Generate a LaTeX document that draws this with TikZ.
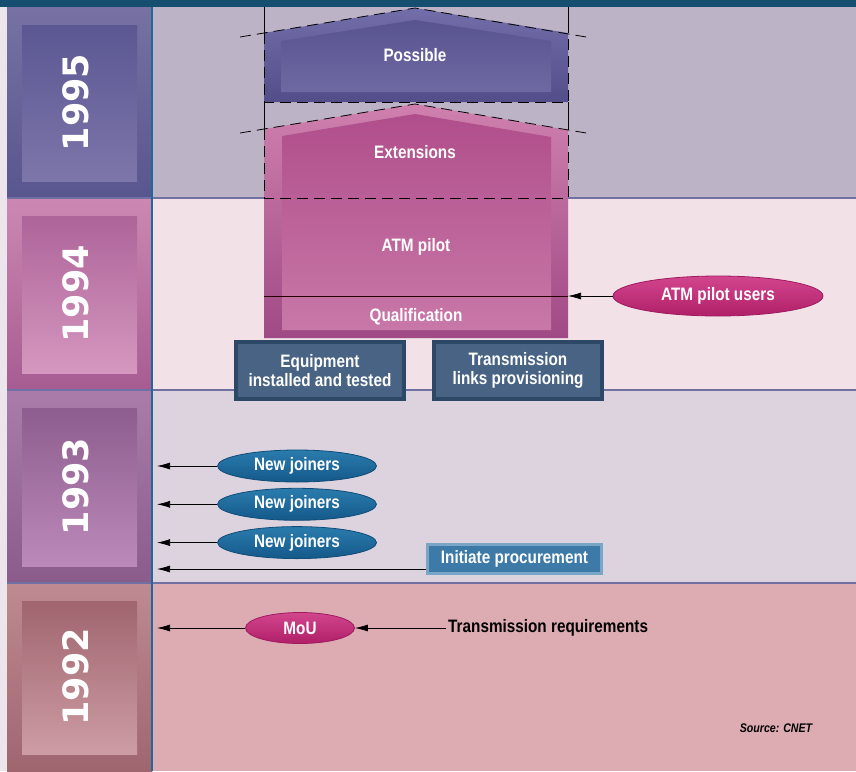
\documentclass[tikz,border=0pt]{standalone}
\usepackage{fontspec}
\setmainfont[FakeStretch=0.85]{Liberation Sans}
\newfontfamily\yearfont{DejaVu Sans}
\usepackage{tikz}
\usetikzlibrary{arrows.meta,positioning,shapes.geometric}
\definecolor{cnbar}{HTML}{154E6E}
\definecolor{cnaxis}{HTML}{1F6A9A}
\definecolor{cnsep}{HTML}{7070A2}
\definecolor{cnstrip}{HTML}{ECE6EC}
% year bands: background, column top/bottom, inset top/bottom
\definecolor{bg1995}{HTML}{BDB3C7}
\definecolor{colhi1995}{HTML}{7772A3}
\definecolor{collo1995}{HTML}{59558E}
\definecolor{inhi1995}{HTML}{5B5792}
\definecolor{inlo1995}{HTML}{7C76AA}
\definecolor{bg1994}{HTML}{F2E2E8}
\definecolor{colhi1994}{HTML}{CC88B2}
\definecolor{collo1994}{HTML}{A65C91}
\definecolor{inhi1994}{HTML}{AD6499}
\definecolor{inlo1994}{HTML}{D597BF}
\definecolor{bg1993}{HTML}{DDD3DF}
\definecolor{colhi1993}{HTML}{A97CA9}
\definecolor{collo1993}{HTML}{8A5C8C}
\definecolor{inhi1993}{HTML}{8C5D8E}
\definecolor{inlo1993}{HTML}{BC8ABA}
\definecolor{bg1992}{HTML}{DDABB2}
\definecolor{colhi1992}{HTML}{BF8A92}
\definecolor{collo1992}{HTML}{9F6670}
\definecolor{inhi1992}{HTML}{A0656F}
\definecolor{inlo1992}{HTML}{CD9CA4}
% phases, tasks and events
\definecolor{posshi}{HTML}{736EA9}
\definecolor{posslo}{HTML}{534E89}
\definecolor{possinhi}{HTML}{58548F}
\definecolor{possinlo}{HTML}{6F69A3}
\definecolor{pilothi}{HTML}{CF80AE}
\definecolor{pilotlo}{HTML}{A04A85}
\definecolor{pilotinhi}{HTML}{B04E8B}
\definecolor{pilotinlo}{HTML}{C878A8}
\definecolor{tbedge}{HTML}{2D4767}
\definecolor{tbfill}{HTML}{486383}
\definecolor{pcedge}{HTML}{79A5C7}
\definecolor{pcfill}{HTML}{3D7AA8}
\definecolor{njhi}{HTML}{2A7CAD}
\definecolor{njlo}{HTML}{14598A}
\definecolor{njedge}{HTML}{0F4C78}
\definecolor{mghi}{HTML}{D2468E}
\definecolor{mglo}{HTML}{B01F68}
\definecolor{mgedge}{HTML}{9E1A5E}

\begin{document}
\begin{tikzpicture}[x=1pt,y=-1pt,font=\fontsize{18}{19}\selectfont\bfseries,
  yearlbl/.style={text=white,rotate=90,inner sep=0pt,font=\yearfont\bfseries\fontsize{35}{35}\selectfont},
  phase/.style={text=white,inner sep=1pt},
  pill/.style={ellipse,inner sep=0pt,text=white,line width=0.8pt},
  joiner/.style={pill,minimum width=159pt,minimum height=32pt,draw=njedge,top color=njhi,bottom color=njlo},
  magpill/.style={pill,draw=mgedge,top color=mghi,bottom color=mglo},
  taskbox/.style={draw=tbedge,line width=4pt,fill=tbfill,text=white,align=center,minimum width=168pt,minimum height=57pt,inner sep=0pt},
  procbox/.style={draw=pcedge,line width=3pt,fill=pcfill,text=white,minimum width=174pt,minimum height=29pt,inner sep=0pt},
  arr/.style={-{Latex[length=13pt,width=7pt]},line width=0.7pt},
  dashline/.style={line width=0.8pt,dash pattern=on 11pt off 6pt},
  guide/.style={line width=0.5pt}]
  \useasboundingbox (0,0) rectangle (856,771);
  \fill[cnstrip] (0,0) rectangle (856,771);
  \fill[cnbar] (0,0) rectangle (856,7);

  \foreach \yr/\top/\bot in {1995/7/198,1994/198/390,1993/390/583,1992/583/771} {
    \fill[bg\yr] (152,\top) rectangle (856,\bot);
    \shade[top color=colhi\yr,bottom color=collo\yr] (7,\top) rectangle (152,\bot);
    \shade[top color=inhi\yr,bottom color=inlo\yr] (22,\top+18) rectangle (137,\bot-17);
    \node[yearlbl] (y\yr) at (76,{(\top+\bot)/2}) {\yr};
  }
  \foreach \s in {198,390,583} \draw[cnsep,line width=1.2pt] (7,\s) -- (856,\s);
  \draw[cnaxis,line width=2pt] (152,7) -- (152,771);
  \coordinate (axis) at (157,0);

  % guides between the roofs
  \draw[guide] (264,7) -- (264,33) (568,7) -- (568,33);
  \draw[guide] (264,102) -- (264,129) (568,102) -- (568,130);

  % possible phase
  \shade[top color=posshi,bottom color=posslo] (264,102) -- (264,33) -- (415,8) -- (568,33) -- (568,102) -- cycle;
  \shade[top color=possinhi,bottom color=possinlo] (281,92) -- (281,41) -- (415,20) -- (551,41) -- (551,92) -- cycle;
  \draw[dashline] (240,37) -- (415,8) -- (592,38);
  \draw[dashline] (264,33) -- (264,102) -- (568,102) -- (568,33);

  % extensions, pilot and qualification
  \shade[top color=pilothi,bottom color=pilotlo] (264,338) -- (264,129) -- (415,104) -- (568,130) -- (568,338) -- cycle;
  \shade[top color=pilotinhi,bottom color=pilotinlo] (282,330) -- (282,136) -- (415,114) -- (551,137) -- (551,330) -- cycle;
  \draw[dashline] (240,133) -- (415,104) -- (592,134);
  \draw[dashline] (264,129) -- (264,198) -- (568,198) -- (568,130);
  \coordinate (qualL) at (264,296);
  \coordinate (qualR) at (568,296);
  \draw[line width=0.8pt,black!85!red] (qualL) -- (qualR);

  \node[phase] (poss) at (415,55) {Possible};
  \node[phase] (ext) at (415,152) {Extensions};
  \node[phase] (pilot) at (416,247) {ATM pilot};
  \node[phase] (qual) at (416,317) {Qualification};

  \node[taskbox] (equip) at (320,370.5) {Equipment\\installed and tested};
  \node[taskbox,right=26pt of equip] (links) {Transmission\\links provisioning};

  \node[magpill,minimum width=210pt,minimum height=40pt] (users) at (718,296) {ATM pilot users};
  \draw[arr] (users) -- (qualR);

  \node[joiner] (nj1) at (297,466) {New joiners};
  \node[joiner,below=5.5pt of nj1] (nj2) {New joiners};
  \node[joiner,below=5.5pt of nj2] (nj3) {New joiners};
  \foreach \n in {nj1,nj2,nj3} \draw[arr] (\n.west) -- (\n.west -| axis);

  \node[procbox] (proc) at (514.5,559) {Initiate procurement};
  \coordinate (procout) at ([yshift=-10pt]proc.west);
  \draw[arr] (procout) -- (procout -| axis);

  \node[magpill,minimum width=109pt,minimum height=31pt] (mou) at (300,628) {MoU};
  \node[anchor=west,inner sep=2pt] (treq) at (446,628) {Transmission requirements};
  \draw[arr] (mou.west) -- (mou.west -| axis);
  \draw[arr] (treq.west) -- (mou.east);

  \node[font=\fontsize{12.5}{13}\selectfont\bfseries\itshape] (src) at (776,728) {Source: CNET};
\end{tikzpicture}
\end{document}
